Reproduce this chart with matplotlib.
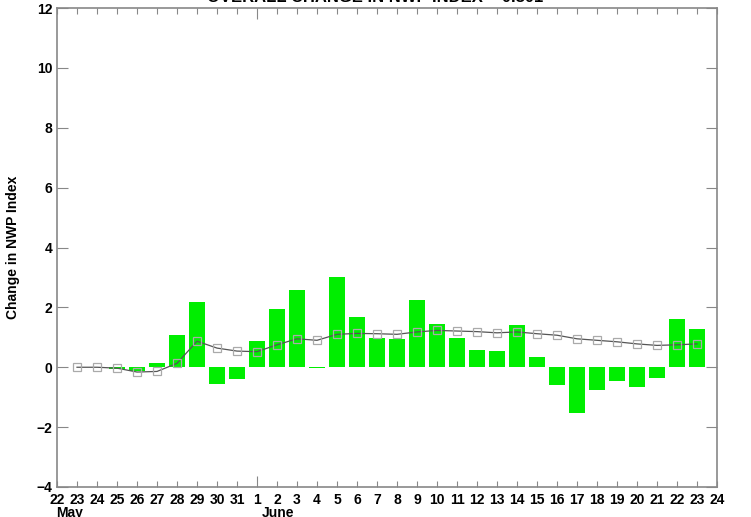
import numpy as np
import matplotlib.pyplot as plt
from matplotlib.ticker import MultipleLocator

# day positions: 0 = May 22, 10 = June 1, 33 = June 24
tick_labels = ["22", "23", "24", "25", "26", "27", "28", "29", "30", "31",
               "1", "2", "3", "4", "5", "6", "7", "8", "9", "10", "11", "12",
               "13", "14", "15", "16", "17", "18", "19", "20", "21", "22",
               "23", "24"]

# daily change, May 23 .. June 23
daily_change = [0.0, 0.0, -0.05, -0.12, 0.13, 1.08, 2.18, -0.56, -0.38,
                0.87, 1.95, 2.58, -0.03, 3.03, 1.69, 0.99, 0.95, 2.24,
                1.43, 0.99, 0.59, 0.55, 1.42, 0.35, -0.6, -1.52, -0.77,
                -0.45, -0.67, -0.37, 1.62, 1.27]

# running index, May 23 .. June 23
running = [0.0, 0.0, -0.03, -0.16, -0.14, 0.13, 0.87, 0.64, 0.54,
           0.52, 0.75, 0.95, 0.9, 1.1, 1.13, 1.12, 1.1, 1.18, 1.23,
           1.21, 1.19, 1.15, 1.18, 1.12, 1.07, 0.95, 0.9, 0.85, 0.78,
           0.73, 0.75, 0.78]

plt.rcParams['font.family'] = ['Liberation Sans', 'DejaVu Sans']
plt.rcParams['font.weight'] = 'bold'

fig = plt.figure(figsize=(7.51, 5.17), dpi=100)
ax = fig.add_axes([57 / 751, 1 - 487 / 517, 660 / 751, 479 / 517])

x = np.arange(1, len(daily_change) + 1)
ax.bar(x, daily_change, width=0.8, color='#00ee00', zorder=2)
ax.plot(x, running, color='#555555', lw=0.9, zorder=3,
        marker='s', ms=6, mfc='none', mec='#aaaaaa', mew=0.9)

ax.set_xlim(0, 33)
ax.set_ylim(-4, 12)
ax.set_xticks(range(34))
ax.set_xticklabels(tick_labels, fontsize=10, fontweight='bold')
ax.yaxis.set_major_locator(MultipleLocator(2))
ax.tick_params(axis='y', labelsize=10, direction='in', length=8,
               right=True, color='#888888')
ax.tick_params(axis='x', direction='in', length=4, top=True,
               color='#888888', pad=4)
# longer tick at June 1
june1 = ax.xaxis.get_major_ticks()[10]
june1.tick1line.set_markersize(8)
june1.tick2line.set_markersize(8)
for s in ax.spines.values():
    s.set_color('#888888')
    s.set_linewidth(1.2)

ax.set_ylabel("Change in NWP Index", fontsize=10, fontweight='bold', labelpad=12)

fig.text(70 / 751, 1 - 513 / 517, "May", fontsize=10, fontweight='bold',
         ha='center', va='center')
fig.text(278 / 751, 1 - 513 / 517, "June", fontsize=10, fontweight='bold',
         ha='center', va='center')
fig.text(0.5, 1.005, "OVERALL CHANGE IN NWP INDEX = 0.801", fontsize=12,
         fontweight='bold', ha='center', va='center')

fig.savefig("out.png", dpi=100)
